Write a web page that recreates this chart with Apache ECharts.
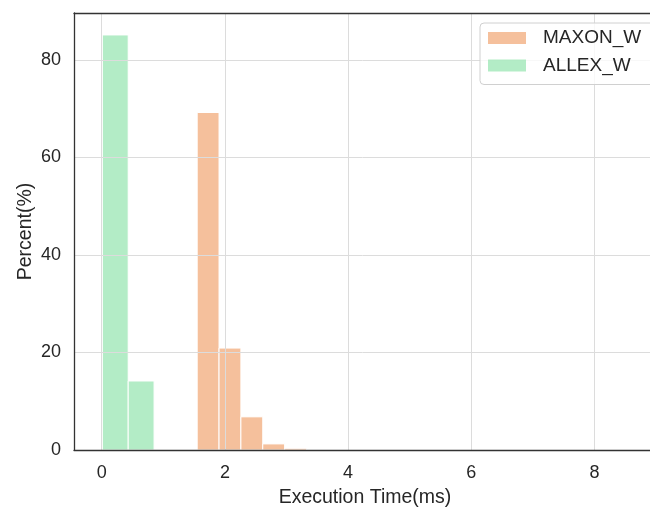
<!DOCTYPE html>
<html>
<head>
<meta charset="utf-8">
<script src="https://cdn.jsdelivr.net/npm/echarts@6/dist/echarts.min.js"></script>
<style>html,body{margin:0;padding:0;background:#fff}#c{width:650px;height:507px}</style>
</head>
<body>
<div id="c"></div>
<script>
// Histogram bins: left edge, right edge, percent
const maxonEdges = [1.55, 1.905, 2.26, 2.615, 2.97, 3.325];
const maxonPercent = [69.2, 20.9, 6.8, 1.25, 0.35];
const allexEdges = [0.01, 0.43, 0.85];
const allexPercent = [85.1, 14.15];
const seriesNames = ['MAXON_W', 'ALLEX_W'];
const xTickValues = [0, 2, 4, 6, 8];

function toBins(edges, vals) {
  return vals.map((v, i) => [edges[i], edges[i + 1], v]);
}

const orange = 'rgba(241,168,118,0.72)';
const green = 'rgba(138,226,168,0.65)';

function renderBar(params, api) {
  const x0 = api.value(0), x1 = api.value(1), y = api.value(2);
  const p0 = api.coord([x0, y]);
  const p1 = api.coord([x1, 0]);
  return {
    type: 'rect',
    shape: { x: p0[0], y: p0[1], width: p1[0] - p0[0], height: p1[1] - p0[1] },
    style: { fill: api.visual('color'), stroke: '#ffffff', lineWidth: 1 }
  };
}

const chart = echarts.init(document.getElementById('c'), null, { renderer: 'canvas' });
const textColor = '#262626';
const font = 'Liberation Sans, Arial, sans-serif';
const spine = { show: true, onZero: false, lineStyle: { color: '#333333', width: 1.3 } };
chart.setOption({
  animation: false,
  backgroundColor: '#ffffff',
  grid: {
    left: 74, right: -6, top: 13, bottom: 57,
    outerBoundsMode: 'none',
    containLabel: false,
    show: false
  },
  legend: {
    orient: 'vertical',
    left: 480, top: 23,
    data: seriesNames.map(n => ({ name: n, icon: 'rect' })),
    itemWidth: 38, itemHeight: 12, itemGap: 7.5,
    padding: [5, 14, 9, 8],
    borderColor: '#d0d0d0', borderWidth: 1, borderRadius: 4,
    backgroundColor: 'rgba(255,255,255,0.8)',
    textStyle: { fontSize: 19, color: textColor, fontFamily: font, lineHeight: 20, padding: [0, 0, 0, 12] }
  },
  xAxis: [{
    type: 'value',
    min: -0.45, max: 9.0,
    splitNumber: 5,
    name: 'Execution Time(ms)',
    nameLocation: 'middle',
    nameGap: 38,
    nameMoveOverlap: false,
    nameTextStyle: { fontSize: 19.5, color: textColor, fontFamily: font },
    axisLine: spine,
    axisTick: { show: false },
    axisLabel: {
      fontSize: 18, color: textColor, fontFamily: font, margin: 14,
      showMinLabel: false, showMaxLabel: false,
      formatter: v => (xTickValues.indexOf(v) >= 0 ? String(v) : '')
    },
    splitLine: { show: true, lineStyle: { color: '#dcdcdc', width: 1 } },
    z: 3
  }, {
    type: 'value',
    position: 'top',
    min: -0.45, max: 9.0,
    axisLine: spine,
    axisTick: { show: false },
    axisLabel: { show: false },
    splitLine: { show: false },
    z: 3
  }],
  yAxis: {
    type: 'value',
    min: 0, max: 89.6, interval: 20,
    name: 'Percent(%)',
    nameLocation: 'middle',
    nameGap: 38,
    nameMoveOverlap: false,
    nameTextStyle: { fontSize: 19.5, color: textColor, fontFamily: font },
    axisLine: spine,
    axisTick: { show: false },
    axisLabel: { fontSize: 18, color: textColor, fontFamily: font, margin: 13, showMaxLabel: false },
    splitLine: { show: true, lineStyle: { color: '#dcdcdc', width: 1 } },
    z: 3
  },
  series: [
    {
      name: seriesNames[0], type: 'custom', renderItem: renderBar,
      itemStyle: { color: orange },
      encode: { x: [0, 1], y: 2 },
      data: toBins(maxonEdges, maxonPercent), z: 2
    },
    {
      name: seriesNames[1], type: 'custom', renderItem: renderBar,
      itemStyle: { color: green },
      encode: { x: [0, 1], y: 2 },
      data: toBins(allexEdges, allexPercent), z: 2
    }
  ]
});
</script>
</body>
</html>
